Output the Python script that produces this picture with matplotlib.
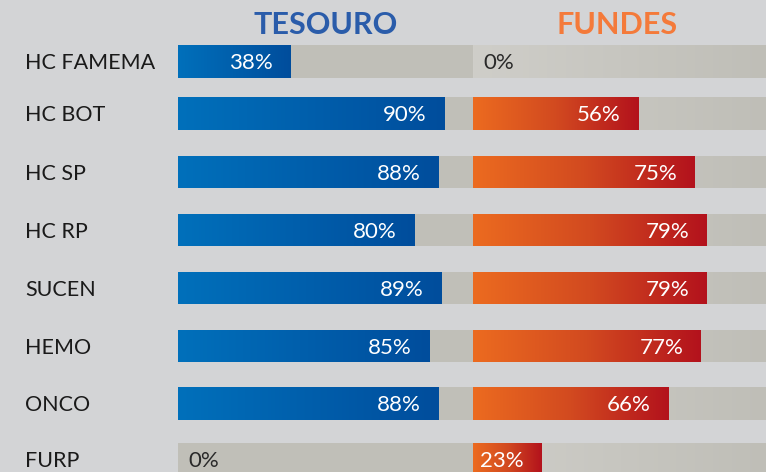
import numpy as np
import matplotlib.pyplot as plt
from matplotlib.colors import LinearSegmentedColormap

# data
categorias = ['HC FAMEMA', 'HC BOT', 'HC SP', 'HC RP', 'SUCEN', 'HEMO', 'ONCO', 'FURP']
tesouro = [38, 90, 88, 80, 89, 85, 88, 0]
fundes = [0, 56, 75, 79, 79, 77, 66, 23]

plt.rcParams['font.family'] = ['Lato', 'DejaVu Sans']

bg = '#d3d4d6'
track = '#c0bfb8'
blue_cmap = LinearSegmentedColormap.from_list('azul', ['#0070bb', '#004d9c'])
red_cmap = LinearSegmentedColormap.from_list('verm', ['#ec6b1f', '#d24a20', '#b3121c'])
track_cmap = LinearSegmentedColormap.from_list('trilho', ['#cfcec9', '#bfbeb7'])

fig = plt.figure(figsize=(7.66, 4.72), dpi=100)
fig.patch.set_facecolor(bg)

W, H = 766, 472
top, bottom = 33, 489   # pixel span of the 8 rows
ax_t = fig.add_axes([178 / W, 1 - bottom / H, 296 / W, (bottom - top) / H])
ax_f = fig.add_axes([473 / W, 1 - bottom / H, 296 / W, (bottom - top) / H])

# row positions (slightly uneven as in the original layout)
y = np.array([0, 0.91, 1.94, 2.96, 3.97, 4.99, 6.0, 6.98])
h = 0.57
grad = np.linspace(0, 1, 256).reshape(1, -1)


def draw(ax, vals, cmap, track_grad=False):
    for yi, v in zip(y, vals):
        tr = ax.barh(yi, 100, height=h, color=track, zorder=1)[0]
        if track_grad:
            tim = ax.imshow(grad, cmap=track_cmap, aspect='auto', zorder=1,
                            extent=[0, 100, yi + h / 2, yi - h / 2])
            tim.set_clip_path(tr)
        if v > 0:
            bar = ax.barh(yi, v, height=h, color='none', zorder=2)[0]
            im = ax.imshow(grad, cmap=cmap, aspect='auto', zorder=2,
                           extent=[0, v, yi + h / 2, yi - h / 2])
            im.set_clip_path(bar)
            ax.text(v - 6, yi + 0.03, f'{v}%', color='white', fontsize=16,
                    ha='right', va='center', zorder=3)
        else:
            ax.text(3.5, yi + 0.03, f'{v}%', color='#2a2a2a', fontsize=16,
                    ha='left', va='center', zorder=3)
    ax.set_xlim(0, 100)
    ax.set_ylim(len(categorias) - 0.5, -0.5)
    ax.axis('off')


draw(ax_t, tesouro, blue_cmap)
draw(ax_f, fundes, red_cmap, track_grad=True)

for yi, nome in zip(y, categorias):
    ax_t.text(-153 / 296 * 100, yi + 0.03, nome, fontsize=15.5, color='#1a1a1a',
              ha='left', va='center', clip_on=False)

fig.text(326 / W, 1 - 25 / H, 'TESOURO', color='#2a5caa', fontsize=22,
         fontweight='bold', ha='center', va='center')
fig.text(617 / W, 1 - 25 / H, 'FUNDES', color='#f47a3a', fontsize=22,
         fontweight='bold', ha='center', va='center')

fig.savefig('out.png', dpi=100, facecolor=bg)
